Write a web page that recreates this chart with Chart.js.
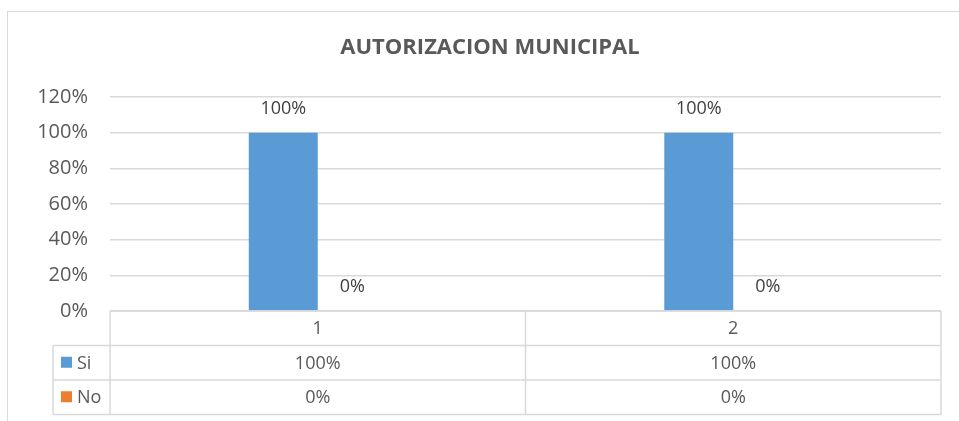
<!DOCTYPE html>
<html>
<head>
<meta charset="utf-8">
<script src="https://cdn.jsdelivr.net/npm/chart.js@4.4.0/dist/chart.umd.min.js"></script>
<style>
  body { margin: 0; background: #fff; }
  #box { position: absolute; left: 7px; top: 11px; width: 970px; height: 420px; border: 1px solid #d9d9d9; box-sizing: border-box; }
  canvas { position: absolute; left: 0; top: 0; }
</style>
</head>
<body>
<div id="box"></div>
<canvas id="chart" width="959" height="421"></canvas>
<script>
const categories = ["1", "2"];
const siValues = [1, 1];
const noValues = [0, 0];
const seriesNames = ["Si", "No"];
const seriesColors = ["#5b9bd5", "#ed7d31"];
const title = "AUTORIZACION MUNICIPAL";

const pct = (v) => Math.round(v * 100) + "%";

// labels over the bars
const barLabels = {
  id: "barLabels",
  afterDatasetsDraw(chart) {
    const ctx = chart.ctx;
    ctx.save();
    ctx.font = "18px 'Open Sans'";
    ctx.fillStyle = "#404040";
    ctx.textAlign = "center";
    ctx.textBaseline = "middle";
    chart.data.datasets.forEach((ds, i) => {
      chart.getDatasetMeta(i).data.forEach((bar, j) => {
        ctx.fillText(pct(ds.data[j]), bar.x, bar.y - 24);
      });
    });
    ctx.restore();
  }
};

// title + data table under the plot
const dataTable = {
  id: "dataTable",
  afterDraw(chart) {
    const ctx = chart.ctx;
    const area = chart.chartArea;
    const x = chart.scales.x;
    const rowH = 34.5;
    const legendLeft = 53;
    const top = area.bottom;
    const bottom = top + rowH * 3;
    const mid = (x.getPixelForValue(0) + x.getPixelForValue(1)) / 2;

    ctx.save();
    ctx.font = "bold 22px 'Open Sans'";
    ctx.fillStyle = "#595959";
    ctx.textAlign = "center";
    ctx.textBaseline = "middle";
    ctx.fillText(title, 490, 48);

    ctx.strokeStyle = "#d9d9d9";
    ctx.lineWidth = 1.5;
    ctx.beginPath();
    // header row
    ctx.moveTo(area.left, top); ctx.lineTo(area.right, top);
    ctx.moveTo(area.left, top); ctx.lineTo(area.left, bottom);
    ctx.moveTo(mid, top); ctx.lineTo(mid, bottom);
    ctx.moveTo(area.right, top); ctx.lineTo(area.right, bottom);
    ctx.moveTo(legendLeft, top + rowH); ctx.lineTo(legendLeft, bottom);
    for (let r = 1; r <= 3; r++) {
      ctx.moveTo(legendLeft, top + rowH * r); ctx.lineTo(area.right, top + rowH * r);
    }
    ctx.stroke();

    ctx.font = "18px 'Open Sans'";
    ctx.fillStyle = "#595959";
    categories.forEach((c, j) => {
      const cx = x.getPixelForValue(j);
      ctx.textAlign = "center";
      ctx.fillText(c, cx, top + rowH / 2 + 1);
      chart.data.datasets.forEach((ds, i) => {
        ctx.fillText(pct(ds.data[j]), cx, top + rowH * (i + 1.5) + 1);
      });
    });
    chart.data.datasets.forEach((ds, i) => {
      const cy = top + rowH * (i + 1.5);
      ctx.fillStyle = seriesColors[i];
      ctx.fillRect(61, cy - 6, 11, 11);
      ctx.fillStyle = "#595959";
      ctx.textAlign = "left";
      ctx.fillText(ds.label, 77, cy + 1);
    });
    ctx.restore();
  }
};

new Chart(document.getElementById("chart"), {
  type: "bar",
  data: {
    labels: categories,
    datasets: [
      { label: seriesNames[0], data: siValues, backgroundColor: seriesColors[0] },
      { label: seriesNames[1], data: noValues, backgroundColor: seriesColors[1] }
    ]
  },
  options: {
    responsive: false,
    animation: false,
    layout: { padding: { top: 97, right: 18, bottom: 110, left: 0 } },
    categoryPercentage: 0.332,
    barPercentage: 1,
    plugins: { legend: { display: false }, tooltip: { enabled: false } },
    scales: {
      x: { display: false },
      y: {
        min: 0, max: 1.2,
        afterFit: (s) => { s.width = 110; },
        ticks: {
          stepSize: 0.2,
          padding: 22,
          color: "#595959",
          font: { family: "'Open Sans'", size: 20 },
          callback: (v) => pct(v)
        },
        grid: { color: "#d9d9d9", lineWidth: 1.5, drawTicks: false },
        border: { display: false }
      }
    }
  },
  plugins: [barLabels, dataTable]
});
</script>
</body>
</html>
